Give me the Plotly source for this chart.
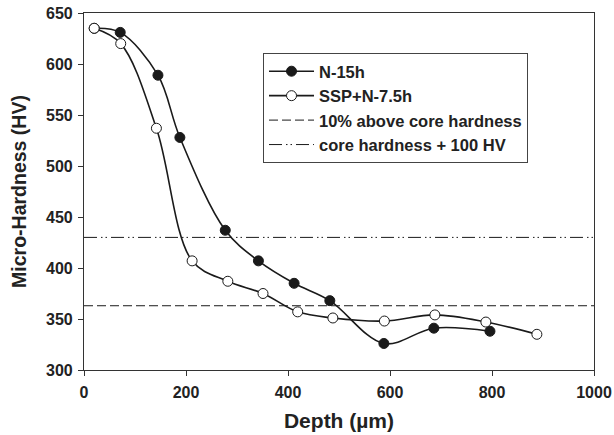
import plotly.graph_objects as go

# N-15h (filled circles)
n15_depth = [20, 71, 145, 188, 277, 342, 412, 482, 588, 686, 796]
n15_hv = [635, 631, 589, 528, 437, 407, 385, 368, 326, 341, 338]

# SSP+N-7.5h (open circles)
ssp_depth = [20, 72, 142, 212, 282, 351, 419, 488, 589, 688, 788, 888]
ssp_hv = [635, 620, 537, 407, 387, 375, 357, 351, 348, 354, 347, 335]

core_hardness = 330
line_x = [0, 1000]
line_10pct = [core_hardness * 1.1, core_hardness * 1.1]
line_100 = [core_hardness + 100, core_hardness + 100]

x_ticks = [0, 200, 400, 600, 800, 1000]
y_ticks = [300, 350, 400, 450, 500, 550, 600, 650]

FONT = "Liberation Sans, Arial, sans-serif"
INK = "#1a1a1a"

fig = go.Figure()
fig.add_trace(go.Scatter(
    x=n15_depth, y=n15_hv, name="N-15h", mode="lines+markers",
    line=dict(color=INK, width=1.6, shape="spline", smoothing=1.0),
    marker=dict(symbol="circle", size=10, color=INK, line=dict(color=INK, width=1)),
))
fig.add_trace(go.Scatter(
    x=ssp_depth, y=ssp_hv, name="SSP+N-7.5h", mode="lines+markers",
    line=dict(color=INK, width=1.6, shape="spline", smoothing=1.0),
    marker=dict(symbol="circle", size=10, color="white", line=dict(color=INK, width=1)),
))
fig.add_trace(go.Scatter(
    x=line_x, y=line_10pct, name="10% above core hardness", mode="lines",
    line=dict(color=INK, width=1, dash="9px,4px"),
))
fig.add_trace(go.Scatter(
    x=line_x, y=line_100, name="core hardness + 100 HV", mode="lines",
    line=dict(color=INK, width=1, dash="13px,4px,1.5px,3px,1.5px,4px"),
))

axis_common = dict(
    showgrid=False, zeroline=False, showline=True, linecolor="#333333", linewidth=1.2,
    mirror=True, ticks="outside", ticklen=5, tickwidth=1, tickcolor="#333333",
    automargin=False,
    tickfont=dict(family=FONT, size=16, color="#222222", weight="bold"),
)

fig.update_layout(
    width=614, height=435,
    margin=dict(l=84, r=20, t=13, b=65, autoexpand=False),
    paper_bgcolor="white", plot_bgcolor="white",
    font=dict(family=FONT, color="#222222"),
    xaxis=dict(range=[0, 1000], tickvals=x_ticks, ticklabelstandoff=3,
               title=dict(text="Depth (µm)", font=dict(family=FONT, size=21, color="#222222", weight="bold"), standoff=13),
               **axis_common),
    yaxis=dict(range=[300, 650], tickvals=y_ticks, ticklabelstandoff=2,
               title=dict(text="Micro-Hardness (HV)", font=dict(family=FONT, size=19.5, color="#222222", weight="bold"), standoff=14),
               **axis_common),
    legend=dict(x=0.351, y=0.888, xanchor="left", yanchor="top",
                bgcolor="white", bordercolor="#444444", borderwidth=1,
                font=dict(family=FONT, size=16.5, color="#222222", weight="bold"),
                tracegroupgap=0, itemwidth=45),
    showlegend=True,
)

fig.write_html("out.html")
